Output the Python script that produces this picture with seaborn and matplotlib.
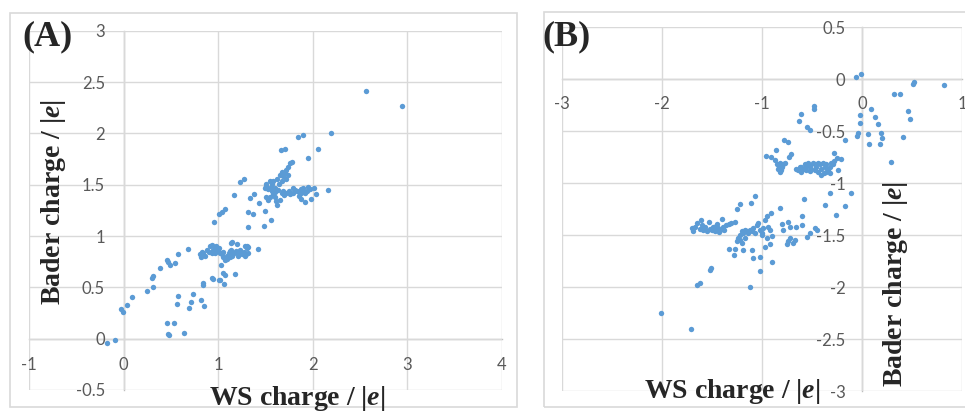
import matplotlib
matplotlib.use("Agg")
import matplotlib.pyplot as plt
import matplotlib.patches as mpatches
import seaborn as sns
import pandas as pd

# ---------------- data ----------------
a_ws = [-0.18, -0.09, -0.03, -0.01, 0.04, 0.09, 0.25, 0.31, 0.30, 0.31, 0.39, 0.46, 0.47, 0.49, 0.54, 0.58, 0.68,
        0.46, 0.47, 0.48, 0.53, 0.64, 0.56, 0.58, 0.69, 0.71, 0.73, 0.82, 0.85, 0.84, 0.84, 0.93, 0.95, 1.03, 1.02,
        1.06, 1.07, 1.18, 1.05, 1.01,
        0.96, 1.01, 1.04, 1.07, 1.17, 1.23, 1.27, 1.31, 1.32, 1.37, 1.34, 1.38, 1.43, 1.48, 1.49, 1.56, 1.42,
        0.81, 0.82, 0.84, 0.83, 0.86, 0.88, 0.90, 0.91, 0.93, 0.93, 0.95, 0.97, 0.97, 0.98, 0.98, 1.00, 1.01, 1.02,
        1.04, 1.05, 1.05, 1.07, 1.09, 1.09, 1.11, 1.12, 1.12, 1.14, 1.14, 1.15, 1.15, 1.17, 1.19, 1.20, 1.21, 1.21,
        1.23, 1.23, 1.25, 1.27, 1.28, 1.28, 1.29, 1.30, 1.30, 1.31, 1.32,
        1.84, 1.90, 2.19, 2.05, 1.66, 1.71, 1.95, 1.78, 1.76, 1.74, 1.72, 1.71, 1.67, 1.65, 1.62, 1.58, 1.57, 1.55,
        1.51, 1.49, 1.53, 1.57, 1.60, 1.64, 1.67, 1.69, 1.72, 1.74, 1.58, 1.60, 1.62, 1.61, 1.65, 1.67, 1.69, 1.72,
        1.76, 1.79, 1.79, 1.83, 1.85, 1.87, 1.88, 1.90, 1.92, 1.94, 1.97, 2.01, 1.87, 1.92, 1.98, 2.03, 2.16, 1.55,
        1.51, 1.53, 1.50, 1.56, 1.63, 1.81, 1.85, 1.90, 1.95, 1.60, 1.70, 1.75,
        2.56, 2.94]
a_bader = [-0.04, -0.01, 0.29, 0.26, 0.33, 0.41, 0.46, 0.50, 0.59, 0.61, 0.69, 0.77, 0.75, 0.72, 0.74, 0.82, 0.87,
           0.15, 0.05, 0.04, 0.15, 0.06, 0.34, 0.42, 0.30, 0.36, 0.44, 0.38, 0.32, 0.54, 0.52, 0.59, 0.58, 0.72, 0.57,
           0.53, 0.62, 0.63, 0.64, 0.57,
           1.14, 1.21, 1.23, 1.26, 1.40, 1.53, 1.56, 1.09, 1.23, 1.21, 1.37, 1.41, 1.32, 1.10, 1.24, 1.16, 0.87,
           0.82, 0.80, 0.83, 0.84, 0.81, 0.86, 0.84, 0.90, 0.91, 0.83, 0.86, 0.88, 0.83, 0.85, 0.90, 0.86, 0.88, 0.83,
           0.82, 0.80, 0.84, 0.77, 0.81, 0.78, 0.83, 0.85, 0.80, 0.86, 0.93, 0.81, 0.94, 0.83, 0.85, 0.92, 0.83, 0.81,
           0.86, 0.84, 0.82, 0.84, 0.90, 0.81, 0.82, 0.88, 0.90, 0.89, 0.83,
           1.96, 1.98, 2.00, 1.85, 1.84, 1.85, 1.76, 1.72, 1.71, 1.67, 1.64, 1.61, 1.62, 1.59, 1.56, 1.54, 1.51, 1.54,
           1.51, 1.47, 1.46, 1.44, 1.47, 1.51, 1.54, 1.58, 1.56, 1.59, 1.41, 1.38, 1.30, 1.34, 1.35, 1.42, 1.44, 1.42,
           1.41, 1.47, 1.42, 1.44, 1.39, 1.46, 1.42, 1.47, 1.42, 1.44, 1.46, 1.47, 1.36, 1.33, 1.36, 1.41, 1.45, 1.38,
           1.38, 1.35, 1.49, 1.48, 1.45, 1.45, 1.43, 1.44, 1.48, 1.43, 1.40, 1.44,
           2.41, 2.27]

b_ws = [-0.06, -0.01, 0.52, 0.51, 0.82, 0.32, 0.38, 0.46, 0.48, 0.41, 0.29, -0.02, -0.02, 0.09, 0.13, 0.16, 0.19,
        0.20, 0.18, 0.06, 0.07, -0.04, -0.05, -0.17,
        -0.48, -0.48, -0.61, -0.63, -0.55, -0.52, -0.78, -0.74, -0.86, -0.71, -0.73, -0.28, -0.21, -0.96, -0.91,
        -0.87, -0.25,
        -0.85, -0.84, -0.82, -0.80, -0.79, -0.77, -0.82, -0.64, -0.62, -0.59, -0.57, -0.56, -0.54, -0.52, -0.51,
        -0.49, -0.47, -0.46, -0.44, -0.42, -0.41, -0.39, -0.37, -0.36, -0.34, -0.32, -0.31, -0.24, -0.41, -0.38,
        -0.52, -0.61, -0.66, -0.61, -0.56, -0.47, -0.44, -0.36, -0.32, -0.29, -0.28, -0.83, -0.81,
        -0.32, -0.11, -0.58, -0.37, -0.17, -0.26, -0.60, -0.60, -0.47, -0.45, -0.52, -0.55, -0.67, -0.69, -0.75,
        -0.74, -0.72, -0.80, -0.74, -0.72, -0.66, -0.82,
        -1.07, -1.11, -1.22, -1.25, -0.91, -1.69, -1.65, -1.61, -1.62, -1.59, -1.57, -1.55, -1.53, -1.50, -1.49,
        -1.47, -1.45, -1.44, -1.42, -1.40, -1.39, -1.36, -1.33, -1.27,
        -1.25, -1.24, -1.22, -1.20, -1.19, -1.17, -1.15, -1.14, -1.12, -1.10, -1.09, -1.07, -1.05, -1.04, -1.02,
        -1.00, -0.99, -0.97, -0.95, -0.94, -0.92,
        -1.20, -1.19, -1.27, -1.33, -1.10, -1.02, -0.97, -0.92, -1.22, -1.17, -1.00, -0.95, -0.90, -0.79, -1.09,
        -1.02, -1.12, -1.28, -1.52, -1.51, -1.65, -1.62, -2.01, -1.71, -0.90,
        -1.70, -1.67, -1.60, -1.52, -1.46, -1.43, -1.38, -1.31]
b_bader = [0.02, 0.05, -0.03, -0.05, -0.06, -0.14, -0.14, -0.31, -0.38, -0.56, -0.80, -0.34, -0.42, -0.29, -0.36,
           -0.43, -0.52, -0.57, -0.62, -0.53, -0.62, -0.52, -0.55, -0.58,
           -0.26, -0.29, -0.33, -0.40, -0.46, -0.49, -0.58, -0.60, -0.68, -0.72, -0.75, -0.71, -0.77, -0.74, -0.75,
           -0.78, -0.76,
           -0.82, -0.86, -0.89, -0.84, -0.82, -0.81, -0.81, -0.87, -0.84, -0.86, -0.82, -0.84, -0.81, -0.83, -0.86,
           -0.81, -0.82, -0.84, -0.81, -0.82, -0.86, -0.81, -0.84, -0.82, -0.87, -0.84, -0.81, -0.87, -0.92, -0.90,
           -0.88, -0.89, -0.86, -0.84, -0.87, -0.87, -0.89, -0.89, -0.90, -0.82, -0.79, -0.84, -0.87,
           -1.09, -1.09, -1.15, -1.21, -1.22, -1.31, -1.32, -1.40, -1.43, -1.45, -1.48, -1.52, -1.55, -1.58, -1.59,
           -1.56, -1.53, -1.39, -1.37, -1.42, -1.42, -1.24,
           -1.12, -1.19, -1.20, -1.25, -1.29, -1.46, -1.38, -1.35, -1.44, -1.45, -1.42, -1.46, -1.37, -1.45, -1.42,
           -1.46, -1.39, -1.43, -1.45, -1.34, -1.42, -1.40, -1.39, -1.37,
           -1.56, -1.53, -1.50, -1.46, -1.48, -1.45, -1.46, -1.48, -1.45, -1.46, -1.43, -1.48, -1.40, -1.38, -1.45,
           -1.48, -1.43, -1.35, -1.32, -1.42, -1.45,
           -1.58, -1.64, -1.63, -1.63, -1.64, -1.71, -1.61, -1.59, -1.55, -1.53, -1.50, -1.53, -1.51, -1.45, -1.72,
           -1.85, -2.00, -1.69, -1.84, -1.82, -1.98, -1.96, -2.25, -2.40, -1.76,
           -1.43, -1.42, -1.40, -1.44, -1.41, -1.47, -1.45, -1.38]

a_xticks = [-1, 0, 1, 2, 3, 4]
a_xticklabels = ["-1", "0", "1", "2", "3", "4"]
a_yticks = [-0.5, 0, 0.5, 1, 1.5, 2, 2.5, 3]
a_yticklabels = ["-0.5", "0", "0.5", "1", "1.5", "2", "2.5", "3"]
b_xticks = [-3, -2, -1, 0, 1]
b_xticklabels = ["-3", "-2", "-1", "0", "1"]
b_yticks = [-3, -2.5, -2, -1.5, -1, -0.5, 0, 0.5]
b_yticklabels = ["-3", "-2.5", "-2", "-1.5", "-1", "-0.5", "0", "0.5"]

xlabel = "WS charge / |$e$|"
ylabel = "Bader charge / |$e$|"

# ---------------- style ----------------
sns.set_theme(style="white")
plt.rcParams["font.family"] = ["Liberation Serif", "DejaVu Serif"]
plt.rcParams["mathtext.fontset"] = "custom"
plt.rcParams["mathtext.it"] = "Liberation Serif:italic:bold"
plt.rcParams["mathtext.rm"] = "Liberation Serif:bold"
plt.rcParams["mathtext.bf"] = "Liberation Serif:bold"

W, H = 965, 412
fig = plt.figure(figsize=(W / 100, H / 100), dpi=100)
fig.patch.set_facecolor("white")

def fx(px):
    return px / W

def fy(py):
    return 1 - py / H

POINT = "#5B9BD5"
GRID = "#D9D9D9"
AXIS = "#BFBFBF"
TICK = "#595959"

# outer chart borders
fig.patches.append(mpatches.Rectangle((fx(10), fy(407)), fx(507), 394 / H, transform=fig.transFigure,
                                      fill=False, edgecolor=GRID, lw=1.2))
fig.patches.append(mpatches.Rectangle((fx(544), fy(407)), fx(440), 395 / H, transform=fig.transFigure,
                                      fill=False, edgecolor=GRID, lw=1.2))

def setup(ax, xlim, ylim, xt, xtl, yt, ytl, xpad, ypad):
    ax.set_xlim(*xlim)
    ax.set_ylim(*ylim)
    ax.set_xticks(xt)
    ax.set_xticklabels(xtl)
    ax.set_yticks(yt)
    ax.set_yticklabels(ytl)
    ax.set_facecolor("none")
    ax.grid(True, color=GRID, lw=1.0)
    for gl in ax.get_xgridlines() + ax.get_ygridlines():
        gl.set_clip_on(False)
    ax.set_axisbelow(True)
    ax.spines["left"].set_position(("data", 0))
    ax.spines["bottom"].set_position(("data", 0))
    ax.spines["top"].set_visible(False)
    ax.spines["right"].set_visible(False)
    for s in ("left", "bottom"):
        ax.spines[s].set_color(AXIS)
        ax.spines[s].set_linewidth(1.0)
        ax.spines[s].set_zorder(0.5)
    ax.tick_params(axis="x", length=0, pad=xpad, labelcolor=TICK, labelsize=12)
    ax.tick_params(axis="y", length=0, pad=ypad, labelcolor=TICK, labelsize=12)
    for lab in ax.get_xticklabels() + ax.get_yticklabels():
        lab.set_fontfamily("Lato")
    ax.set_xlabel("")
    ax.set_ylabel("")

# Panel A
axA = fig.add_axes([fx(29), fy(390), fx(502 - 29), (390 - 30.7) / H])
dfA = pd.DataFrame({"ws": a_ws, "bader": a_bader})
sns.scatterplot(data=dfA, x="ws", y="bader", ax=axA, color=POINT, s=15, linewidth=0, zorder=3)
setup(axA, (-1, 4), (-0.5, 3), a_xticks, a_xticklabels, a_yticks, a_yticklabels, 13, 13.5)

# Panel B
axB = fig.add_axes([fx(561.7), fy(391), fx(962 - 561.7), (391 - 27.3) / H])
dfB = pd.DataFrame({"ws": b_ws, "bader": b_bader})
sns.scatterplot(data=dfB, x="ws", y="bader", ax=axB, color=POINT, s=15, linewidth=0, zorder=3)
setup(axB, (-3, 1), (-3, 0.5), b_xticks, b_xticklabels, b_yticks, b_yticklabels, 12, 12)

# text labels
lab_kw = dict(fontsize=20, fontweight="bold", family="Liberation Serif")
fig.text(fx(22), fy(37), "(A)", fontsize=26, fontweight="bold", family="Liberation Serif", ha="left", va="center")
fig.text(fx(542), fy(37), "(B)", fontsize=26, fontweight="bold", family="Liberation Serif", ha="left", va="center")
fig.text(fx(53), fy(202), ylabel, rotation=90, ha="center", va="center", **lab_kw)
fig.text(fx(297), fy(405), xlabel, ha="center", va="baseline", **lab_kw)
fig.text(fx(732), fy(397.5), xlabel, ha="center", va="baseline", **lab_kw)
fig.text(fx(895.5), fy(284), ylabel, rotation=90, ha="center", va="center", **lab_kw)

fig.savefig("out.png", dpi=100)
